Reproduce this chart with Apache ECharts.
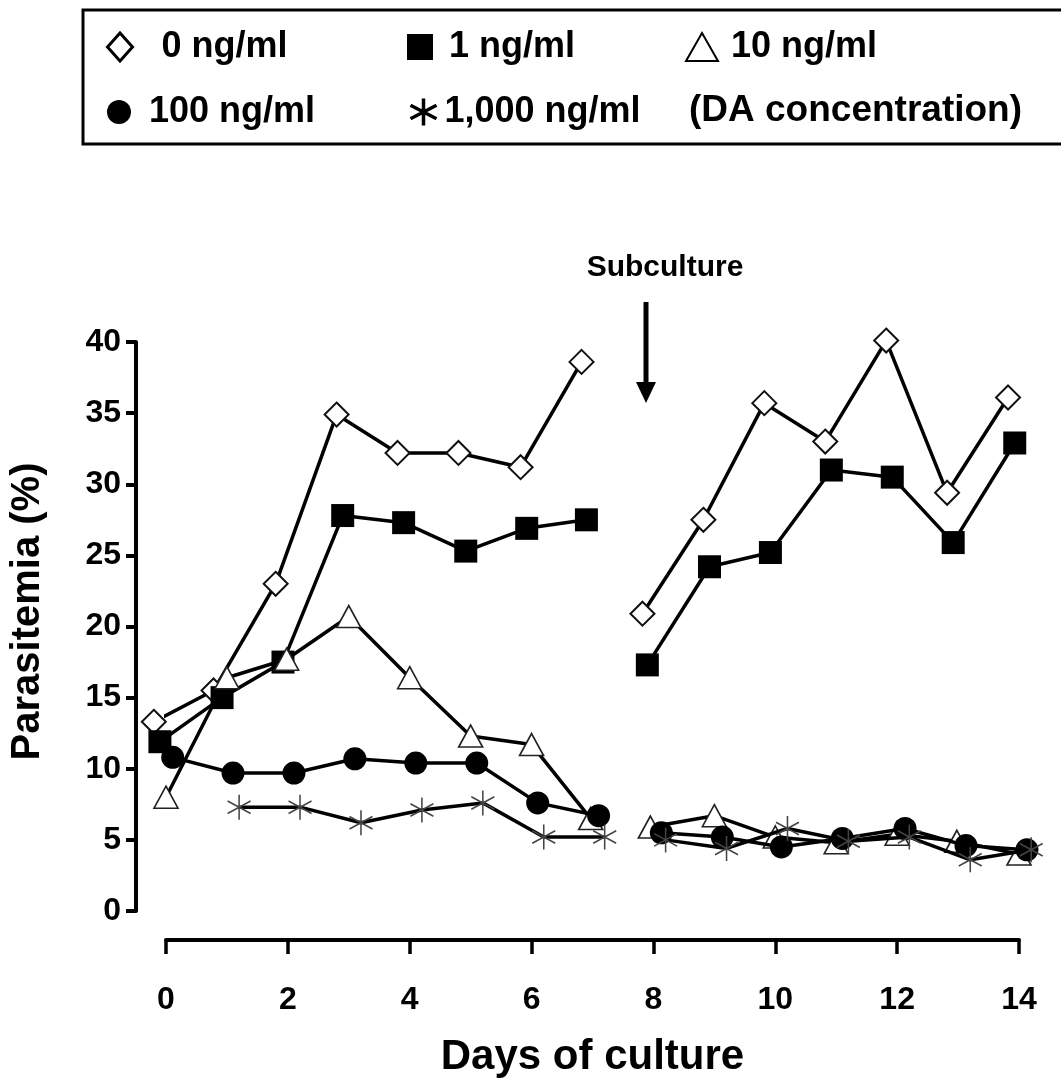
<!DOCTYPE html>
<html><head><meta charset="utf-8">
<script src="https://cdn.jsdelivr.net/npm/echarts@6/dist/echarts.min.js"></script>
<style>html,body{margin:0;padding:0;background:#fff}#c{width:1061px;height:1086px}</style>
</head><body><div id="c"></div>
<script>
// ---- data (null marks the subculture break) ----
const seriesNames = ['0 ng/ml', '1 ng/ml', '10 ng/ml', '100 ng/ml', '1,000 ng/ml'];
const dayTicks = [0, 2, 4, 6, 8, 10, 12, 14];
const yTicks = [0, 5, 10, 15, 20, 25, 30, 35, 40];

// plotted day positions (each series is drawn slightly staggered in the original)
const days0    = [-0.2, 0.78, 1.8, 2.8, 3.8, 4.8, 5.82, 6.82, null, 7.82, 8.82, 9.82, 10.82, 11.82, 12.82, 13.82];
const para0    = [13.3, 15.5, 23.0, 34.9, 32.2, 32.2, 31.2, 38.6, null, 20.9, 27.5, 35.7, 33.0, 40.1, 29.4, 36.1];

const days1    = [-0.1, 0.92, 1.92, 2.9, 3.9, 4.92, 5.92, 6.9, null, 7.9, 8.92, 9.92, 10.92, 11.92, 12.92, 13.93];
const para1    = [11.9, 15.0, 17.5, 27.8, 27.3, 25.3, 26.9, 27.5, null, 17.3, 24.2, 25.2, 31.0, 30.5, 25.9, 32.9];

const days10   = [0.0, 1.0, 1.98, 3.0, 4.0, 5.0, 6.0, 6.97, null, 7.95, 9.0, 10.0, 11.0, 12.0, 12.98, 14.0];
const para10   = [8.0, 16.4, 17.7, 20.7, 16.4, 12.3, 11.7, 6.5, null, 5.9, 6.7, 5.2, 4.8, 5.4, 4.9, 4.0];

const days100  = [0.11, 1.1, 2.1, 3.1, 4.1, 5.1, 6.1, 7.1, null, 8.13, 9.13, 10.1, 11.1, 12.13, 13.13, 14.13];
const para100  = [10.8, 9.7, 9.7, 10.7, 10.4, 10.4, 7.6, 6.7, null, 5.5, 5.2, 4.5, 5.1, 5.8, 4.6, 4.3];

const days1000 = [1.2, 2.2, 3.2, 4.2, 5.2, 6.2, 7.2, null, 8.2, 9.2, 10.2, 11.2, 12.2, 13.2, 14.2];
const para1000 = [7.3, 7.3, 6.2, 7.1, 7.6, 5.2, 5.2, null, 5.0, 4.4, 5.8, 4.9, 5.2, 3.6, 4.3];

// ---- build ----
const FONT = '"Liberation Sans", Arial, Helvetica, sans-serif';
const ASTER = 'path://M0,-10L0,10M-8.7,-5L8.7,5M-8.7,5L8.7,-5';

function segments(xs, ys) {
  const out = [[]];
  xs.forEach((x, i) => {
    if (x === null) out.push([]);
    else out[out.length - 1].push([x, ys[i]]);
  });
  return out;
}

const styles = [
  { symbol: 'diamond',  size: [24, 24], item: { color: '#fff', borderColor: '#111', borderWidth: 2 } },
  { symbol: 'rect',     size: [23, 23], item: { color: '#000', borderColor: '#000', borderWidth: 0 } },
  { symbol: 'triangle', size: [24, 22], item: { color: '#fff', borderColor: '#222', borderWidth: 1.6 } },
  { symbol: 'circle',   size: [23, 23], item: { color: '#000', borderColor: '#000', borderWidth: 0 } },
  { symbol: ASTER,      size: [23, 25], item: { color: 'none', borderColor: '#444', borderWidth: 1.6 } }
];
const allDays = [days0, days1, days10, days100, days1000];
const allVals = [para0, para1, para10, para100, para1000];

const series = [];
seriesNames.forEach((name, k) => {
  segments(allDays[k], allVals[k]).forEach(seg => {
    series.push({
      type: 'line', name: name, data: seg,
      symbol: styles[k].symbol, symbolSize: styles[k].size,
      showAllSymbol: true, clip: false, z: 2 + k,
      lineStyle: { color: '#000', width: 3.5 },
      itemStyle: styles[k].item,
      emphasis: { disabled: true },
      animation: false
    });
  });
});

const legendPos = [
  { left: 106, top: 29, w: 25, h: 28, pad: 24, icon: 'diamond',  st: { color: '#fff', borderColor: '#000', borderWidth: 3 } },
  { left: 407, top: 29, w: 26, h: 26, pad: 11, icon: 'rect',     st: { color: '#000', borderColor: '#000', borderWidth: 0 } },
  { left: 685, top: 29, w: 32, h: 28, pad: 8,  icon: 'triangle', st: { color: '#fff', borderColor: '#000', borderWidth: 2 } },
  { left: 107, top: 94, w: 24, h: 25, pad: 13, icon: 'circle',   st: { color: '#000', borderColor: '#000', borderWidth: 0 } },
  { left: 408, top: 94, w: 26, h: 27, pad: 3,  icon: ASTER,      st: { color: 'none', borderColor: '#000', borderWidth: 3.5 } }
];
const legends = seriesNames.map((name, k) => ({
  left: legendPos[k].left, top: legendPos[k].top, padding: 0,
  itemWidth: legendPos[k].w, itemHeight: legendPos[k].h,
  symbolKeepAspect: false,
  selectedMode: false,
  data: [{ name: name, icon: legendPos[k].icon }],
  itemStyle: legendPos[k].st,
  textStyle: { fontSize: 36, fontWeight: 'bold', color: '#000', fontFamily: FONT, padding: [0, 0, 0, legendPos[k].pad] }
}));

const chart = echarts.init(document.getElementById('c'), null, { renderer: 'canvas' });
chart.setOption({
  animation: false,
  backgroundColor: '#fff',
  textStyle: { fontFamily: FONT },
  legend: legends,
  grid: { left: 166, right: 42, top: 342, bottom: 175 },
  xAxis: {
    type: 'value', min: dayTicks[0], max: dayTicks[dayTicks.length - 1], interval: 2, offset: 29,
    axisLine: { onZero: false, lineStyle: { color: '#000', width: 4 } },
    axisTick: { length: 14, lineStyle: { color: '#000', width: 3.5 } },
    axisLabel: { margin: 44, fontSize: 32, fontWeight: 'bold', color: '#000', fontFamily: FONT,
      formatter: v => dayTicks.includes(v) ? String(v) : '' },
    splitLine: { show: false },
    name: 'Days of culture', nameLocation: 'middle', nameGap: 96,
    nameTextStyle: { fontSize: 42, fontWeight: 'bold', color: '#000', fontFamily: FONT }
  },
  yAxis: {
    type: 'value', min: yTicks[0], max: yTicks[yTicks.length - 1], interval: 5, offset: 30,
    axisLine: { show: true, onZero: false, lineStyle: { color: '#000', width: 4 } },
    axisTick: { show: true, length: 10, lineStyle: { color: '#000', width: 4 } },
    axisLabel: { margin: 15, fontSize: 32, fontWeight: 'bold', color: '#000', fontFamily: FONT },
    splitLine: { show: false },
    name: 'Parasitemia (%)', nameLocation: 'middle', nameGap: 88, nameRotate: 90,
    nameTextStyle: { fontSize: 40, fontWeight: 'bold', color: '#000', fontFamily: FONT, padding: [0, 0, 0, 30] }
  },
  graphic: [
    { type: 'rect', shape: { x: 83, y: 10, width: 1000, height: 134 },
      style: { fill: 'none', stroke: '#000', lineWidth: 3 }, z: 1 },
    { type: 'text', left: 689, top: 92,
      style: { text: '(DA concentration)', font: 'bold 37px ' + FONT, fill: '#000' } },
    { type: 'text', x: 665, y: 268,
      style: { text: 'Subculture', font: 'bold 30px ' + FONT, fill: '#000', align: 'center', verticalAlign: 'middle' } },
    { type: 'line', shape: { x1: 646, y1: 302, x2: 646, y2: 386 }, style: { stroke: '#000', lineWidth: 5 } },
    { type: 'polygon', shape: { points: [[636, 382], [656, 382], [646, 403]] }, style: { fill: '#000' } }
  ],
  series: series
});
</script>
</body></html>
